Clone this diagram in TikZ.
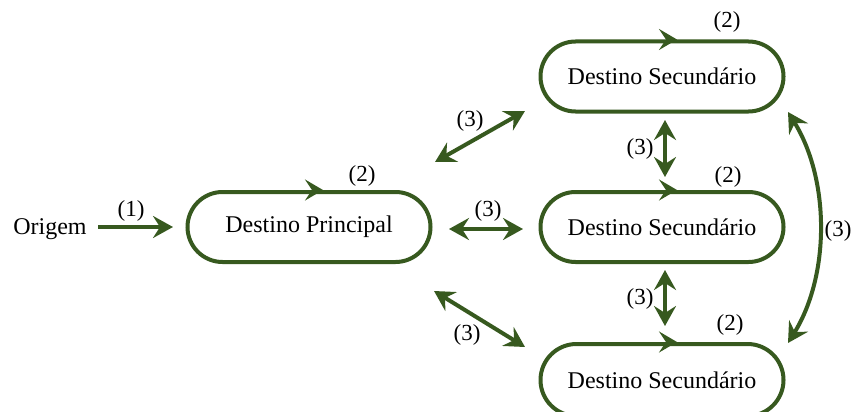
\documentclass[tikz,border=0pt]{standalone}
\usepackage{fontspec}
\setmainfont{Liberation Serif}
\usetikzlibrary{shapes.misc,arrows.meta,calc}
\definecolor{dg}{HTML}{37591F}
\begin{document}
\begin{tikzpicture}[x=1pt,y=-1pt,
  box/.style={rounded rectangle, draw=dg, line width=4pt, minimum width=243pt, minimum height=70pt, inner sep=0pt, font=\fontsize{24}{28}\selectfont},
  lbl/.style={font=\fontsize{23}{28}\selectfont, inner sep=0pt},
  both/.style={draw=dg, line width=4pt, {Stealth[length=20pt,width=22pt,inset=7pt]}-{Stealth[length=20pt,width=22pt,inset=7pt]}},
  one/.style={draw=dg, line width=4pt, -{Stealth[length=20pt,width=22pt,inset=7pt]}},
  mid/.style={draw=dg, line width=4pt, -{Stealth[length=18pt,width=21pt,inset=7pt]}},
]
\useasboundingbox (0,0) rectangle (851,412);
% nodes
\node[lbl, font=\fontsize{24}{28}\selectfont] (or) at (50,229) {Origem};
\node[box] (dp) at (309,227) {Destino Principal};
\node[box] (s1) at (662,76.5) {Destino Secundário};
\node[box] (s2) at (662,227) {Destino Secundário};
\node[box, minimum height=72pt] (s3) at (662,380) {Destino Secundário};
% direction arrows on boxes
\draw[mid] ($(dp.north)+(10,0)$) -- ($(dp.north)+(14,0)$);
\draw[mid] ($(s1.north)+(11,0)$) -- ($(s1.north)+(15,0)$);
\draw[mid] ($(s2.north)+(11,0)$) -- ($(s2.north)+(15,0)$);
\draw[mid] ($(s3.north)+(11,0)$) -- ($(s3.north)+(15,0)$);
\node[lbl] (l2a) at (362,176) {(2)};
\node[lbl] (l2b) at (727,22) {(2)};
\node[lbl] (l2c) at (728,177) {(2)};
\node[lbl] (l2d) at (730,325) {(2)};
% origin arrow
\coordinate (o1) at (98,227);
\coordinate (o2) at (173,227);
\draw[one] (o1) -- (o2);
\node[lbl] (l1) at (131,211) {(1)};
% diagonal arrows
\coordinate (a1) at (435,162);
\coordinate (a2) at (525,111);
\draw[both] (a1) -- (a2);
\node[lbl] (l3a) at (470,121) {(3)};
\coordinate (b1) at (449,229);
\coordinate (b2) at (523,229);
\draw[both] (b1) -- (b2);
\node[lbl] (l3b) at (488,211) {(3)};
\coordinate (c1) at (434,291);
\coordinate (c2) at (525,347);
\draw[both] (c1) -- (c2);
\node[lbl] (l3c) at (467,335) {(3)};
% vertical arrows
\coordinate (v1) at (665,120);
\coordinate (v2) at (665,177);
\draw[both] (v1) -- (v2);
\node[lbl] (l3d) at (640,149) {(3)};
\coordinate (w1) at (665,270);
\coordinate (w2) at (665,326);
\draw[both] (w1) -- (w2);
\node[lbl] (l3e) at (640,299) {(3)};
% right curve
\coordinate (r1) at (788,112);
\coordinate (r2) at (788,343);
\draw[both] (r1) .. controls (830,180) and (830,275) .. (r2);
\node[lbl] (l3f) at (838,231) {(3)};
\end{tikzpicture}
\end{document}
